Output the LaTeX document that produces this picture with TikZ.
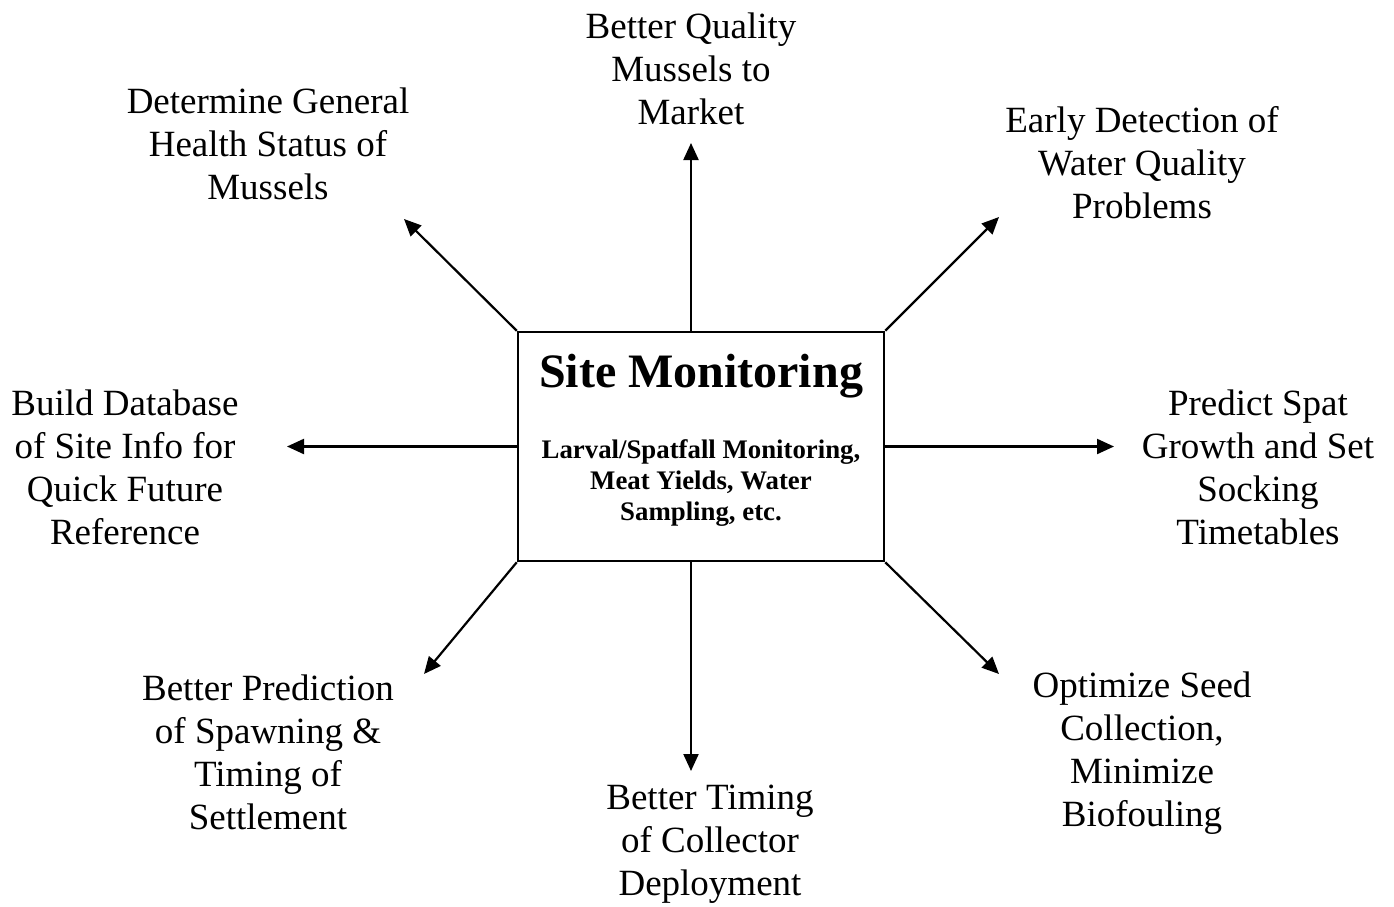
\documentclass[tikz,border=0pt]{standalone}
\usepackage{fontspec}
\setmainfont{Liberation Serif}
\usetikzlibrary{arrows.meta}

\begin{document}
\begin{tikzpicture}[x=1pt,y=-1pt,
  lbl/.style={align=center,inner sep=0pt,font=\fontsize{37}{43}\selectfont},
  arr/.style={line width=2.2pt,-{Triangle[length=17pt,width=15pt]}},
  hub/.style={draw,line width=2.5pt,minimum width=366pt,minimum height=229pt,inner sep=0pt}]
\useasboundingbox (0,0) rectangle (1394,907);

% central box
\node[hub] (box) at (701,446.5) {};
\node[inner sep=0pt,font=\fontsize{48}{56}\selectfont\bfseries] (title) at (701,376) {Site Monitoring};
\node[align=center,inner sep=0pt,font=\fontsize{26.8}{31}\selectfont\bfseries] (sub) at (701,483) {Larval/Spatfall Monitoring,\\Meat Yields, Water\\Sampling, etc.};

% surrounding outcomes
\node[lbl] (n)  at (691,69)   {Better Quality\\Mussels to\\Market};
\node[lbl] (nw) at (268,144)  {Determine General\\Health Status of\\Mussels};
\node[lbl] (ne) at (1142,163) {Early Detection of\\Water Quality\\Problems};
\node[lbl] (w)  at (125,467)  {Build Database\\of Site Info for\\Quick Future\\Reference};
\node[lbl] (e)  at (1258,467) {Predict Spat\\Growth and Set\\Socking\\Timetables};
\node[lbl] (sw) at (268,752)  {Better Prediction\\of Spawning \&\\Timing of\\Settlement};
\node[lbl] (s)  at (710,844)  {Better Timing\\of Collector\\Deployment};
\node[lbl] (se) at (1142,753) {Optimize Seed\\Collection,\\Minimize\\Biofouling};

% arrow tips
\coordinate (aN)  at (691,143);
\coordinate (aNW) at (404,219);
\coordinate (aNE) at (999,217);
\coordinate (aW)  at (287,446.5);
\coordinate (aE)  at (1114,446.5);
\coordinate (aSW) at (424,674);
\coordinate (aS)  at (691,771);
\coordinate (aSE) at (999,674);

% connectors
\draw[arr] (box.north -| aN) -- (aN);
\draw[arr] (box.north west) -- (aNW);
\draw[arr] (box.north east) -- (aNE);
\draw[arr] (box.west) -- (aW);
\draw[arr] (box.east) -- (aE);
\draw[arr] (box.south west) -- (aSW);
\draw[arr] (box.south -| aS) -- (aS);
\draw[arr] (box.south east) -- (aSE);
\end{tikzpicture}
\end{document}
